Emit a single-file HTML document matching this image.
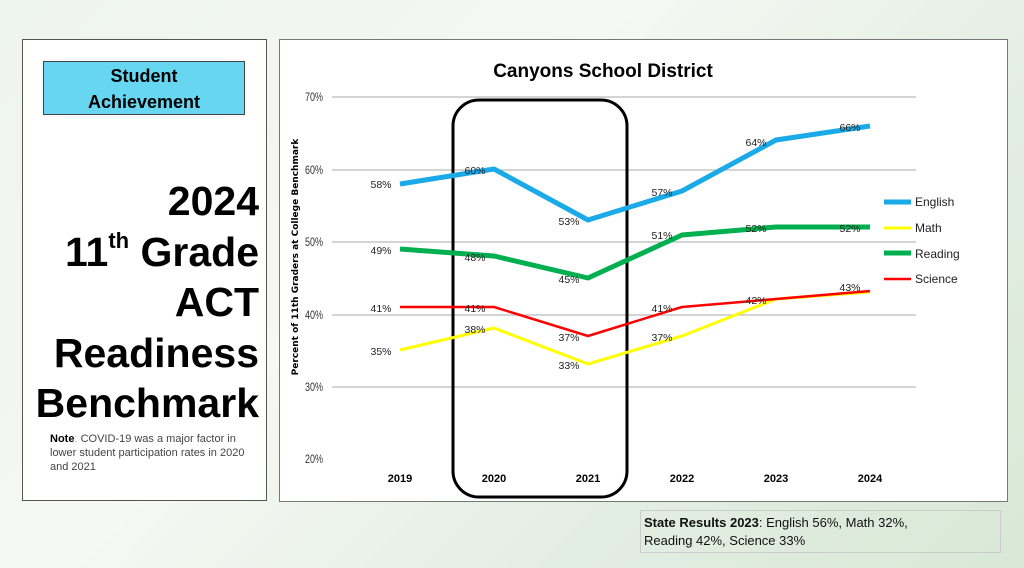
<!DOCTYPE html>
<html><head><style>
body{margin:0;width:1024px;height:568px;overflow:hidden;background:linear-gradient(135deg,#eef4ee 0%,#f5f8f3 40%,#e3eee2 70%,#d8e8d6 100%);font-family:"Liberation Sans",Arial,sans-serif;position:relative}
.lp{position:absolute;left:22px;top:39px;width:245px;height:462px;background:#fff;border:1px solid #555;box-sizing:border-box}
.sa{position:absolute;left:43px;top:61px;width:202px;height:54px;background:#67d6f0;border:1px solid #444;box-sizing:border-box;text-align:center;font-weight:bold;font-size:18px;line-height:26px;padding-top:1px}
.big{position:absolute;right:765px;top:176px;text-align:right;font-weight:bold;font-size:41px;line-height:50.5px;color:#000}
.big sup{font-size:22px;vertical-align:18px;line-height:0}
.note{position:absolute;left:50px;top:432px;width:215px;font-size:11px;line-height:14px;color:#444}
.rp{position:absolute;left:279px;top:39px;width:729px;height:463px;background:#fff;border:1px solid #777;box-sizing:border-box}
.st{position:absolute;left:640px;top:510px;width:361px;height:43px;border:1px solid #ccc;box-sizing:border-box;font-size:13px;line-height:18px;padding:3px 0 0 3px;color:#111}
</style></head><body>
<div class="lp"></div>
<div class="sa">Student<br>Achievement</div>
<div class="big">2024<br>11<sup>th</sup> Grade<br>ACT<br>Readiness<br>Benchmark</div>
<div class="note"><b style="color:#000">Note</b><span style="color:#f0a020">:</span> COVID-19 was a major factor in lower student participation rates in 2020 and 2021</div>
<div class="rp"></div>
<svg style="position:absolute;left:0;top:0" width="1024" height="568" font-family="Liberation Sans, Arial, sans-serif">
<text x="603" y="77" text-anchor="middle" font-weight="bold" font-size="19">Canyons School District</text>
<g stroke="#aaa" stroke-width="1">
<line x1="332" x2="916" y1="97" y2="97"/><line x1="332" x2="916" y1="170" y2="170"/><line x1="332" x2="916" y1="242" y2="242"/><line x1="332" x2="916" y1="315" y2="315"/><line x1="332" x2="916" y1="387" y2="387"/></g>
<g font-size="12" fill="#333">
<text x="305" y="101" textLength="18" lengthAdjust="spacingAndGlyphs">70%</text><text x="305" y="174" textLength="18" lengthAdjust="spacingAndGlyphs">60%</text><text x="305" y="246" textLength="18" lengthAdjust="spacingAndGlyphs">50%</text><text x="305" y="319" textLength="18" lengthAdjust="spacingAndGlyphs">40%</text><text x="305" y="391" textLength="18" lengthAdjust="spacingAndGlyphs">30%</text><text x="305" y="463" textLength="18" lengthAdjust="spacingAndGlyphs">20%</text></g>
<text transform="translate(298,257) rotate(-90)" text-anchor="middle" font-size="9" font-weight="bold" font-family="DejaVu Sans, sans-serif">Percent of 11th Graders at College Benchmark</text>
<g font-size="11" font-weight="bold" text-anchor="middle">
<text x="400" y="482">2019</text><text x="494" y="482">2020</text><text x="588" y="482">2021</text><text x="682" y="482">2022</text><text x="776" y="482">2023</text><text x="870" y="482">2024</text></g>
<rect x="453" y="100" width="174" height="397" rx="26" fill="none" stroke="#000" stroke-width="3"/>
<g fill="none" stroke-linejoin="round">
<polyline stroke="#1aaae8" stroke-width="5" points="400,184 494,169 588,220 682,191 776,140 870,126"/>
<polyline stroke="#00b050" stroke-width="5" points="400,249 494,256 588,278 682,235 776,227 870,227"/>
<polyline stroke="#ffff00" stroke-width="3" points="400,350 494,328 588,364 682,336 776,299 870,292"/>
<polyline stroke="#ff0000" stroke-width="2.5" points="400,307 494,307 588,336 682,307 776,299 870,291"/>
</g>
<g font-size="10.5" fill="#222" text-anchor="middle">
<text x="381" y="188">58%</text><text x="475" y="174">60%</text><text x="569" y="225">53%</text><text x="662" y="196">57%</text><text x="756" y="146">64%</text><text x="850" y="131">66%</text>
<text x="381" y="254">49%</text><text x="475" y="261">48%</text><text x="569" y="283">45%</text><text x="662" y="239">51%</text><text x="756" y="232">52%</text><text x="850" y="232">52%</text>
<text x="381" y="312">41%</text><text x="475" y="312">41%</text><text x="569" y="341">37%</text><text x="662" y="312">41%</text><text x="756" y="304">42%</text><text x="850" y="291">43%</text>
<text x="381" y="355">35%</text><text x="475" y="333">38%</text><text x="569" y="369">33%</text><text x="662" y="341">37%</text></g>
<g stroke-width="5"><line x1="884" x2="911" y1="202" y2="202" stroke="#1aaae8"/><line x1="884" x2="911" y1="253" y2="253" stroke="#00b050"/></g>
<line x1="884" x2="911" y1="228" y2="228" stroke="#ffff00" stroke-width="3"/>
<line x1="884" x2="911" y1="279" y2="279" stroke="#ff0000" stroke-width="2.5"/>
<g font-size="12" fill="#222"><text x="915" y="206">English</text><text x="915" y="232">Math</text><text x="915" y="258">Reading</text><text x="915" y="283">Science</text></g>
</svg>
<div class="st"><b>State Results 2023</b>: English 56%, Math 32%,<br>Reading 42%, Science 33%</div>
</body></html>
